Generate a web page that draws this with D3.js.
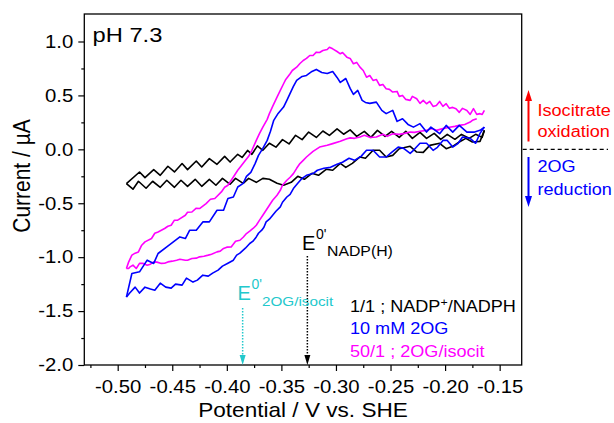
<!DOCTYPE html>
<html>
<head>
<meta charset="utf-8">
<script src="https://cdn.jsdelivr.net/npm/d3@7"></script>
<style>
  body { margin: 0; background: #fff; }
  text { font-family: Arial, "Liberation Sans", sans-serif; }
</style>
</head>
<body>
<svg id="chart"></svg>
<script>
// axis ticks
const xTicks = [-0.50, -0.45, -0.40, -0.35, -0.30, -0.25, -0.20, -0.15];
const xMinor = [-0.525, -0.475, -0.425, -0.375, -0.325, -0.275, -0.225, -0.175];
const yTicks = [-2.0, -1.5, -1.0, -0.5, 0.0, 0.5, 1.0];
const yMinor = [-1.75, -1.25, -0.75, -0.25, 0.25, 0.75];

// formal potentials (V vs SHE)
const e0Isocit = -0.3855;
const e0Nadp = -0.3262;

// 1/1 NADP+/NADPH  [potential V, current uA]
const blackFwd = [[-0.492,-0.318],[-0.480,-0.210],[-0.475,-0.262],[-0.467,-0.188],[-0.461,-0.241],[-0.454,-0.157],
  [-0.448,-0.210],[-0.441,-0.132],[-0.436,-0.188],[-0.428,-0.108],[-0.423,-0.164],[-0.416,-0.086],[-0.409,-0.139],
  [-0.402,-0.065],[-0.397,-0.118],[-0.390,-0.046],[-0.386,-0.075],[-0.381,-0.010],[-0.377,-0.046],[-0.372,0.032],
  [-0.367,-0.009],[-0.361,0.056],[-0.355,0.020],[-0.349,0.090],[-0.343,0.050],[-0.337,0.130],[-0.331,0.090],
  [-0.325,0.160],[-0.318,0.110],[-0.312,0.170],[-0.306,0.130],[-0.299,0.190],[-0.293,0.140],[-0.287,0.180],
  [-0.281,0.120],[-0.274,0.167],[-0.268,0.111],[-0.262,0.176],[-0.255,0.120],[-0.249,0.167],[-0.242,0.111],
  [-0.236,0.167],[-0.230,0.102],[-0.223,0.157],[-0.217,0.102],[-0.210,0.148],[-0.204,0.093],[-0.198,0.139],
  [-0.191,0.093],[-0.185,0.139],[-0.178,0.102],[-0.172,0.139],[-0.166,0.111],[-0.164,0.176]];
const blackRev = [[-0.164,0.176],[-0.168,0.074],[-0.175,0.068],[-0.181,0.102],[-0.187,0.068],[-0.193,0.028],
  [-0.199,0.006],[-0.205,0.056],[-0.214,0.037],[-0.220,-0.028],[-0.226,-0.025],[-0.232,0.028],[-0.242,0.006],
  [-0.248,-0.056],[-0.254,-0.071],[-0.260,-0.009],[-0.266,-0.009],[-0.273,-0.083],[-0.278,-0.071],[-0.285,-0.130],
  [-0.291,-0.167],[-0.296,-0.130],[-0.303,-0.194],[-0.309,-0.185],[-0.316,-0.241],[-0.322,-0.222],[-0.329,-0.278],
  [-0.335,-0.250],[-0.341,-0.306],[-0.348,-0.333],[-0.354,-0.315],[-0.361,-0.278],[-0.367,-0.269],[-0.373,-0.306],
  [-0.380,-0.269],[-0.385,-0.315],[-0.392,-0.269],[-0.397,-0.324],[-0.404,-0.269],[-0.410,-0.333],[-0.416,-0.278],
  [-0.423,-0.343],[-0.429,-0.278],[-0.436,-0.343],[-0.442,-0.287],[-0.448,-0.352],[-0.455,-0.287],[-0.461,-0.352],
  [-0.468,-0.296],[-0.474,-0.361],[-0.481,-0.296],[-0.486,-0.370],[-0.492,-0.318]];

// 10 mM 2OG
const blueFwd = [[-0.492,-1.370],[-0.487,-1.151],[-0.480,-1.136],[-0.473,-1.028],[-0.467,-1.058],[-0.463,-0.966],
  [-0.455,-0.905],[-0.449,-0.858],[-0.443,-0.812],[-0.438,-0.827],[-0.434,-0.750],[-0.428,-0.750],[-0.422,-0.673],
  [-0.416,-0.673],[-0.409,-0.565],[-0.403,-0.565],[-0.399,-0.456],[-0.394,-0.442],[-0.390,-0.349],[-0.385,-0.315],
  [-0.382,-0.250],[-0.378,-0.213],[-0.374,-0.130],[-0.371,-0.056],[-0.367,0.009],[-0.363,0.083],[-0.360,0.167],
  [-0.357,0.269],[-0.353,0.333],[-0.348,0.392],[-0.345,0.454],[-0.342,0.519],[-0.339,0.583],[-0.336,0.639],
  [-0.331,0.676],[-0.327,0.685],[-0.322,0.722],[-0.318,0.741],[-0.313,0.713],[-0.308,0.704],[-0.303,0.722],
  [-0.299,0.667],[-0.296,0.620],[-0.291,0.657],[-0.287,0.565],[-0.284,0.509],[-0.280,0.546],[-0.276,0.454],
  [-0.273,0.435],[-0.269,0.426],[-0.263,0.438],[-0.258,0.361],[-0.254,0.331],[-0.248,0.361],[-0.244,0.259],
  [-0.239,0.284],[-0.234,0.231],[-0.229,0.206],[-0.223,0.238],[-0.217,0.160],[-0.213,0.206],[-0.209,0.176],
  [-0.205,0.145],[-0.199,0.222],[-0.193,0.160],[-0.187,0.222],[-0.180,0.160],[-0.173,0.160],[-0.168,0.176],
  [-0.164,0.206]];
const blueRev = [[-0.164,0.206],[-0.168,0.148],[-0.172,0.056],[-0.177,0.102],[-0.184,0.114],[-0.188,0.056],
  [-0.193,0.021],[-0.198,0.083],[-0.202,0.083],[-0.207,0.019],[-0.211,-0.009],[-0.217,0.056],[-0.223,0.056],
  [-0.229,-0.009],[-0.232,-0.037],[-0.238,0.009],[-0.243,0.021],[-0.249,-0.028],[-0.254,-0.071],[-0.260,-0.071],
  [-0.266,-0.009],[-0.272,-0.009],[-0.277,-0.065],[-0.283,-0.102],[-0.288,-0.083],[-0.294,-0.120],[-0.299,-0.139],
  [-0.305,-0.167],[-0.311,-0.176],[-0.317,-0.194],[-0.321,-0.225],[-0.327,-0.241],[-0.331,-0.269],[-0.335,-0.315],
  [-0.339,-0.364],[-0.342,-0.417],[-0.345,-0.442],[-0.349,-0.491],[-0.351,-0.534],[-0.355,-0.574],[-0.358,-0.611],
  [-0.361,-0.648],[-0.364,-0.673],[-0.366,-0.722],[-0.368,-0.750],[-0.371,-0.778],[-0.373,-0.812],[-0.376,-0.852],
  [-0.379,-0.873],[-0.383,-0.917],[-0.385,-0.935],[-0.388,-0.963],[-0.391,-0.981],[-0.394,-1.028],[-0.399,-1.056],
  [-0.404,-1.083],[-0.408,-1.120],[-0.413,-1.148],[-0.417,-1.176],[-0.422,-1.167],[-0.427,-1.213],[-0.431,-1.231],
  [-0.437,-1.194],[-0.441,-1.259],[-0.447,-1.250],[-0.451,-1.287],[-0.456,-1.278],[-0.461,-1.241],[-0.466,-1.306],
  [-0.470,-1.296],[-0.475,-1.278],[-0.480,-1.333],[-0.484,-1.278],[-0.489,-1.333],[-0.492,-1.370]];

// 50/1 2OG/isocit
const magFwd = [[-0.492,-1.105],[-0.490,-1.046],[-0.487,-0.981],[-0.484,-0.963],[-0.481,-0.951],[-0.478,-0.889],
  [-0.475,-0.858],[-0.469,-0.827],[-0.466,-0.778],[-0.463,-0.766],[-0.457,-0.734],[-0.454,-0.713],[-0.451,-0.704],
  [-0.448,-0.657],[-0.445,-0.657],[-0.438,-0.611],[-0.436,-0.583],[-0.432,-0.581],[-0.428,-0.546],[-0.425,-0.549],
  [-0.419,-0.503],[-0.415,-0.463],[-0.411,-0.456],[-0.405,-0.395],[-0.402,-0.352],[-0.399,-0.333],[-0.394,-0.256],
  [-0.390,-0.194],[-0.385,-0.130],[-0.380,-0.065],[-0.377,-0.009],[-0.373,0.083],[-0.370,0.148],[-0.367,0.206],
  [-0.363,0.278],[-0.361,0.331],[-0.358,0.398],[-0.354,0.484],[-0.351,0.546],[-0.348,0.608],[-0.346,0.648],
  [-0.342,0.701],[-0.340,0.731],[-0.336,0.762],[-0.333,0.796],[-0.330,0.824],[-0.327,0.843],[-0.324,0.870],
  [-0.321,0.870],[-0.318,0.901],[-0.315,0.898],[-0.312,0.917],[-0.308,0.926],[-0.306,0.947],[-0.303,0.932],
  [-0.299,0.907],[-0.296,0.886],[-0.294,0.898],[-0.290,0.855],[-0.287,0.843],[-0.284,0.794],[-0.281,0.806],
  [-0.278,0.762],[-0.275,0.731],[-0.272,0.669],[-0.269,0.685],[-0.266,0.639],[-0.263,0.648],[-0.260,0.593],
  [-0.257,0.602],[-0.254,0.562],[-0.251,0.556],[-0.248,0.531],[-0.244,0.537],[-0.242,0.491],[-0.239,0.500],
  [-0.236,0.463],[-0.232,0.454],[-0.230,0.491],[-0.226,0.469],[-0.223,0.426],[-0.220,0.454],[-0.217,0.423],
  [-0.214,0.444],[-0.211,0.398],[-0.208,0.407],[-0.205,0.444],[-0.202,0.398],[-0.199,0.423],[-0.196,0.380],
  [-0.193,0.389],[-0.190,0.377],[-0.187,0.343],[-0.184,0.380],[-0.180,0.361],[-0.177,0.324],[-0.174,0.377],
  [-0.171,0.324],[-0.168,0.331],[-0.166,0.324],[-0.164,0.361]];
const magRev = [[-0.171,0.284],[-0.175,0.269],[-0.177,0.253],[-0.182,0.231],[-0.187,0.222],[-0.191,0.213],
  [-0.196,0.204],[-0.202,0.192],[-0.208,0.176],[-0.212,0.194],[-0.217,0.176],[-0.223,0.167],[-0.228,0.157],
  [-0.232,0.160],[-0.237,0.148],[-0.242,0.139],[-0.248,0.145],[-0.253,0.120],[-0.257,0.139],[-0.263,0.114],
  [-0.269,0.111],[-0.274,0.130],[-0.278,0.114],[-0.283,0.102],[-0.287,0.106],[-0.290,0.099],[-0.296,0.074],
  [-0.303,0.053],[-0.308,0.037],[-0.315,0.021],[-0.321,-0.019],[-0.327,-0.071],[-0.330,-0.102],[-0.333,-0.132],
  [-0.336,-0.176],[-0.339,-0.225],[-0.342,-0.259],[-0.345,-0.287],[-0.349,-0.333],[-0.351,-0.380],[-0.354,-0.426],
  [-0.358,-0.472],[-0.361,-0.519],[-0.364,-0.565],[-0.367,-0.611],[-0.370,-0.657],[-0.373,-0.704],[-0.376,-0.734],
  [-0.379,-0.759],[-0.382,-0.781],[-0.385,-0.815],[-0.388,-0.843],[-0.392,-0.852],[-0.396,-0.905],[-0.400,-0.907],
  [-0.403,-0.919],[-0.406,-0.944],[-0.409,-0.951],[-0.414,-0.972],[-0.417,-0.981],[-0.421,-0.991],[-0.425,-0.997],
  [-0.428,-1.009],[-0.432,-1.012],[-0.436,-1.028],[-0.438,-1.028],[-0.443,-1.019],[-0.446,-1.028],[-0.450,-1.037],
  [-0.454,-1.044],[-0.457,-1.056],[-0.460,-1.058],[-0.464,-1.046],[-0.467,-1.044],[-0.470,-1.065],[-0.473,-1.074],
  [-0.477,-1.056],[-0.480,-1.058],[-0.483,-1.105],[-0.486,-1.074],[-0.489,-1.093],[-0.490,-1.105],[-0.492,-1.105]];

const width = 614, height = 423;
const plotLeft = 84.3, plotRight = 521.7, plotTop = 14, plotBottom = 365;
const sx = 1.13; // glyphs in the figure are a bit wide

const svg = d3.select("#chart").attr("width", width).attr("height", height);

const x = d3.scaleLinear().domain([-0.5306, -0.1298]).range([plotLeft, plotRight]);
const y = d3.scaleLinear().domain([-2.0, 1.255]).range([plotBottom, plotTop]);

function addText(px, py, str, size, color, anchor, stretch) {
  return svg.append("text")
    .attr("transform", `translate(${px},${py}) scale(${stretch || sx},1)`)
    .attr("text-anchor", anchor || "start")
    .attr("font-size", size)
    .attr("fill", color || "#000")
    .text(str);
}

// axes
const xAxis = svg.append("g")
  .attr("transform", `translate(0,${plotBottom})`)
  .call(d3.axisBottom(x).tickValues(xTicks).tickFormat(d => d.toFixed(2)).tickSize(6).tickSizeOuter(0).tickPadding(9));
xAxis.selectAll("text").attr("font-size", 18).attr("fill", "#000")
  .attr("font-family", "Arial, 'Liberation Sans', sans-serif")
  .attr("transform", `scale(${sx},1)`);
svg.append("g")
  .attr("transform", `translate(0,${plotBottom})`)
  .call(d3.axisBottom(x).tickValues(xMinor).tickFormat("").tickSize(3).tickSizeOuter(0));

const yAxis = svg.append("g")
  .attr("transform", `translate(${plotLeft},0)`)
  .call(d3.axisLeft(y).tickValues(yTicks).tickFormat(d => d.toFixed(1)).tickSize(6).tickSizeOuter(0));
yAxis.selectAll("text").attr("font-size", 18).attr("fill", "#000")
  .attr("font-family", "Arial, 'Liberation Sans', sans-serif")
  .attr("x", -11 / sx)
  .attr("transform", `scale(${sx},1)`);
svg.append("g")
  .attr("transform", `translate(${plotLeft},0)`)
  .call(d3.axisLeft(y).tickValues(yMinor).tickFormat("").tickSize(3).tickSizeOuter(0));

svg.selectAll(".domain").remove();
svg.selectAll(".tick line").attr("stroke", "#000").attr("stroke-width", 1.2);

// frame
svg.append("rect")
  .attr("x", plotLeft).attr("y", plotTop)
  .attr("width", plotRight - plotLeft).attr("height", plotBottom - plotTop)
  .attr("fill", "none").attr("stroke", "#000").attr("stroke-width", 1.3);

// curves
const line = d3.line().x(d => x(d[0])).y(d => y(d[1]));
const curves = [
  {data: blackFwd, color: "#000000"}, {data: blackRev, color: "#000000"},
  {data: magFwd, color: "#ff00ff"}, {data: magRev, color: "#ff00ff"},
  {data: blueFwd, color: "#0000ff"}, {data: blueRev, color: "#0000ff"}
];
svg.append("g").selectAll("path")
  .data(curves)
  .enter()
  .append("path")
  .attr("d", d => line(d.data))
  .attr("fill", "none")
  .attr("stroke", d => d.color)
  .attr("stroke-width", 1.6)
  .attr("stroke-linejoin", "round");

// titles
addText(92.5, 42, "pH 7.3", 21);
addText(303, 417, "Potential / V vs. SHE", 20, "#000", "middle");
svg.append("text")
  .attr("transform", `translate(30,176) rotate(-90) scale(1,${sx})`)
  .attr("text-anchor", "middle")
  .attr("font-size", 21)
  .text("Current / µA");

// formal potential markers
function marker(xv, color, yTop) {
  const px = x(xv);
  svg.append("line")
    .attr("x1", px).attr("x2", px)
    .attr("y1", yTop).attr("y2", plotBottom - 8)
    .attr("stroke", color).attr("stroke-width", 1.5)
    .attr("stroke-dasharray", "1.5,1.5");
  svg.append("path")
    .attr("d", `M${px - 3},${plotBottom - 10}L${px + 3},${plotBottom - 10}L${px},${plotBottom}Z`)
    .attr("fill", color);
}
marker(e0Nadp, "#000", 256);
marker(e0Isocit, "#22c8cc", 308);

addText(302, 250, "E", 20, "#000", "start", 1);
svg.append("text").attr("x", 316).attr("y", 239).attr("font-size", 14)
  .attr("font-family", "'Liberation Serif', 'Times New Roman', serif").text("0'");
addText(327, 256, "NADP(H)", 14);

addText(237.5, 300, "E", 20, "#22c8cc", "start", 1);
svg.append("text").attr("x", 251.5).attr("y", 289).attr("font-size", 14).attr("fill", "#22c8cc")
  .attr("font-family", "'Liberation Serif', 'Times New Roman', serif").text("0'");
addText(262, 306, "2OG/isocit", 13.5, "#22c8cc");

// legend
const leg1 = addText(350, 311.5, "1/1 ; NADP", 16);
leg1.append("tspan").attr("font-size", 11).attr("dy", -6).text("+");
leg1.append("tspan").attr("dy", 6).text("/NADPH");
addText(350, 334, "10 mM 2OG", 16, "#0000ff");
addText(350, 356.5, "50/1 ; 2OG/isocit", 16, "#ff00ff");

// right side: current direction
const ax = 528.5;
svg.append("line").attr("x1", ax).attr("x2", ax).attr("y1", 141.5).attr("y2", 100)
  .attr("stroke", "#ff0000").attr("stroke-width", 2);
svg.append("path").attr("d", `M${ax - 3.5},${101}L${ax + 3.5},${101}L${ax},${90}Z`).attr("fill", "#ff0000");
svg.append("line").attr("x1", ax).attr("x2", ax).attr("y1", 157).attr("y2", 197)
  .attr("stroke", "#0000ff").attr("stroke-width", 2);
svg.append("path").attr("d", `M${ax - 3.5},${196}L${ax + 3.5},${196}L${ax},${207}Z`).attr("fill", "#0000ff");

svg.append("line").attr("x1", plotRight + 1).attr("x2", 608)
  .attr("y1", y(0)).attr("y2", y(0))
  .attr("stroke", "#000").attr("stroke-width", 1.3).attr("stroke-dasharray", "4,3");

addText(537.5, 116, "Isocitrate", 16, "#ff0000");
addText(537.5, 137, "oxidation", 16, "#ff0000");
addText(537.5, 172, "2OG", 16, "#0000ff");
addText(537.5, 195, "reduction", 16, "#0000ff");
</script>
</body>
</html>
